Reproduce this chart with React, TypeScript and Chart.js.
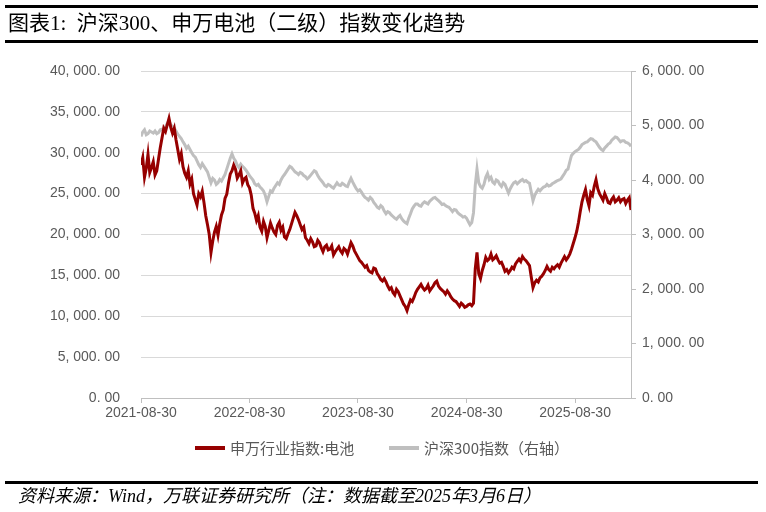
import React, { useEffect, useRef } from "react";
import { Chart, registerables } from "chart.js";

Chart.register(...registerables);

const TITLE = "图表1:  沪深300、申万电池（二级）指数变化趋势";
const SOURCE = "资料来源：Wind，万联证券研究所（注：数据截至2025年3月6日）";
const SERIES_NAMES = ["申万行业指数:电池", "沪深300指数（右轴）"];
const SERIES_COLORS = ["#960000", "#BFBFBF"];

const START_DATE = "2021-08-30";
const END_DATE = "2026-03-06";
const X_TICK_LABELS = ["2021-08-30", "2022-08-30", "2023-08-30", "2024-08-30", "2025-08-30"];

const LEFT_MAX = 40000;
const LEFT_STEP = 5000;
const RIGHT_MAX = 6000;
const RIGHT_STEP = 1000;

// 申万行业指数:电池 (left axis), evenly spaced samples from START_DATE to END_DATE
const BATTERY = [
  28500, 29400, 27000, 28100, 29800, 27600, 28200, 28900, 27300, 27800,
  29200, 30600, 31800, 33000, 32600, 33400, 34200, 33100, 32400, 33000,
  31600, 30400, 29200, 29900, 28300, 27500, 27000, 27800, 26200, 26800,
  25000, 24300, 23600, 25000, 24600, 25300, 23900, 22300, 21200, 20000,
  17800, 19200, 20300, 21000, 19900, 21300, 22400, 23000, 24400, 24900,
  26300, 27400, 27800, 28500, 28000, 26900, 27300, 27800, 26300, 26800,
  27000, 26100, 25700, 24800, 23200, 22600, 21700, 22300, 20900, 20400,
  21600, 21000, 19600, 20500, 21400, 20800, 20300, 20000, 21100, 21500,
  20500, 20900, 19700, 19500, 20100, 20600, 21300, 22000, 22700, 22300,
  21800, 21200, 20600, 20900, 19600, 19300, 18900, 19500, 19100, 18500,
  18600, 19300, 19000, 18400, 17900, 18500, 18700, 18100, 18200, 18600,
  17500, 17900, 18200, 18500, 18000, 17700, 18300, 18100, 17600, 18300,
  19000, 18600, 18000, 17600, 17200, 16800, 16600, 16300, 16000, 16200,
  15600, 15400, 15300, 15900, 15800, 15200, 14900, 14500, 14300, 14600,
  14200, 13700, 13300, 13500, 12900, 12600, 13300, 13000, 12500, 12000,
  11500, 11200, 10700, 11400, 12000, 11800, 12300, 12900, 13300, 13600,
  13900, 13500, 13200, 13400, 13800, 13100, 13400, 13700, 14100, 14300,
  13700, 13400, 13200, 13000, 12700, 13100, 12800, 12400, 12100, 11900,
  11800, 11500, 11200, 11600, 11400, 11100, 11200, 11400, 11500, 11300,
  11600, 15800, 17800, 15200, 14600, 15600, 16300, 17200, 16800, 17000,
  17600, 16900, 17100, 17400, 16900, 16500, 16600, 16100, 15500, 15700,
  15300, 15600, 16000, 15800, 16400, 16700, 17000, 16700, 17300, 17000,
  16800, 16500, 16200, 14800, 13500, 14100, 14400, 14200, 14700, 14900,
  15200, 15600, 16100, 15700, 15500, 16000, 15800, 16100, 16300, 16000,
  16500, 16900, 17300, 16900, 17200, 17600, 18200, 18900, 19600, 20400,
  21500, 22800, 24000, 24800, 25500, 24300, 23500, 25100, 24800, 25900,
  26700, 25600, 25000, 24600, 24200, 25000, 24500, 23900, 23800, 24300,
  24600, 24000, 24200, 24500, 24000, 24300, 24400, 23800, 24200, 24500,
  23000,
];

// 沪深300指数 (right axis)
const CSI300 = [
  4800, 4880, 4920, 4830, 4850, 4900, 4880, 4860, 4900, 4850,
  4870, 4920, 4930, 4900, 4980, 5040, 5080, 5010, 4990, 4950,
  4900, 4840, 4800, 4760, 4700, 4650, 4580, 4620, 4560, 4500,
  4450, 4420, 4350, 4280, 4230, 4300, 4250, 4200, 4150, 4050,
  3950, 4030, 4000, 3920, 3950, 4010, 3980, 4040, 4100, 4200,
  4300, 4400, 4480, 4400, 4350, 4270, 4230, 4290, 4250, 4220,
  4180, 4130, 4080, 4040, 4000, 3930, 3900, 3920, 3870, 3840,
  3800, 3720, 3600, 3700, 3800, 3780, 3850, 3900, 3950, 3920,
  4000, 4060, 4100, 4150, 4200, 4250, 4230, 4190, 4150, 4130,
  4100, 4140, 4120, 4080, 4060, 4020, 4050, 4090, 4130, 4170,
  4150, 4080, 4030, 3990, 3950, 3900, 3880, 3920, 3900, 3870,
  3850, 3900, 3950, 3910, 3900, 3940, 3920, 3890, 3880, 3960,
  4030, 3960, 3900, 3840, 3800, 3820, 3780, 3720, 3680, 3660,
  3630, 3680, 3650, 3590, 3550, 3500, 3480, 3530, 3500, 3430,
  3380, 3420, 3400, 3360, 3330, 3300, 3280, 3320, 3350, 3290,
  3250, 3220, 3200, 3300, 3380, 3470, 3520, 3560, 3560, 3530,
  3520, 3570, 3600, 3580, 3560, 3610, 3640, 3670, 3680, 3650,
  3620, 3590, 3550, 3560, 3530, 3510, 3500, 3460, 3420, 3460,
  3450, 3400, 3370, 3350, 3320, 3330, 3300, 3240, 3180, 3220,
  3400, 3900, 4200, 3950, 3880, 3850, 3920, 4050, 4120, 4010,
  4050, 3960, 3930, 4000, 3980, 3920, 3880, 3950, 3920, 3840,
  3760, 3840, 3900, 3950, 3970, 3930, 3960, 3990, 4010, 3970,
  3990, 3960, 3940, 3780, 3620, 3720, 3780, 3830, 3800, 3840,
  3870, 3880, 3920, 3890, 3900, 3930, 3950, 3970, 3990, 4000,
  4020, 4070, 4120, 4180, 4200, 4330, 4450, 4490, 4520, 4540,
  4560, 4600, 4650, 4670, 4690, 4700, 4730, 4760, 4750, 4720,
  4700, 4650, 4600, 4560, 4540, 4590, 4620, 4660, 4680, 4730,
  4760, 4790, 4780, 4740, 4700, 4720, 4720, 4690, 4680, 4660,
  4620,
];

const dayNum = (s: string) => {
  const [y, m, d] = s.split("-").map(Number);
  return Date.UTC(y, m - 1, d) / 86400000;
};

const fmt = (v: number) =>
  Number(v)
    .toLocaleString("en-US", { minimumFractionDigits: 2, maximumFractionDigits: 2 })
    .replace(/,/g, ", ")
    .replace(/\./g, ". ");

const TICK_FONT = { family: '"Liberation Sans", Arial, sans-serif', size: 14 };
const TEXT_GRAY = "#595959";

export default function App() {
  const canvasRef = useRef<HTMLCanvasElement | null>(null);

  useEffect(() => {
    document.body.style.margin = "0";
    const canvas = canvasRef.current;
    if (!canvas) return;
    const last = BATTERY.length - 1;
    const totalDays = dayNum(END_DATE) - dayNum(START_DATE);
    const tickPos = X_TICK_LABELS.map((l) => ((dayNum(l) - dayNum(START_DATE)) / totalDays) * last);
    const toPoints = (arr: number[]) => arr.map((v, i) => ({ x: (i * last) / (arr.length - 1), y: v }));

    const chart = new Chart(canvas, {
      type: "line",
      data: {
        datasets: [
          {
            label: SERIES_NAMES[0],
            data: toPoints(BATTERY),
            borderColor: SERIES_COLORS[0],
            backgroundColor: SERIES_COLORS[0],
            borderWidth: 3,
            pointRadius: 0,
            tension: 0,
            yAxisID: "y",
          },
          {
            label: SERIES_NAMES[1],
            data: toPoints(CSI300),
            borderColor: SERIES_COLORS[1],
            backgroundColor: SERIES_COLORS[1],
            borderWidth: 3,
            pointRadius: 0,
            tension: 0,
            yAxisID: "y1",
          },
        ],
      },
      options: {
        animation: false,
        responsive: false,
        devicePixelRatio: 1,
        layout: { padding: { top: 71, bottom: 82, left: 0, right: 0 } },
        plugins: { legend: { display: false }, tooltip: { enabled: false } },
        scales: {
          x: {
            type: "linear",
            min: 0,
            max: last,
            afterBuildTicks: (scale: any) => {
              scale.ticks = tickPos.map((v) => ({ value: v }));
            },
            afterFit: (scale: any) => {
              scale.height = 32;
            },
            grid: { drawOnChartArea: false, drawTicks: true, tickLength: 5, color: "#BFBFBF" },
            border: { display: true, color: "#BFBFBF", width: 1 },
            ticks: {
              autoSkip: false,
              maxRotation: 0,
              padding: 2,
              color: TEXT_GRAY,
              font: TICK_FONT,
              callback: (_v: any, i: number) => X_TICK_LABELS[i],
            },
          },
          y: {
            position: "left",
            min: 0,
            max: LEFT_MAX,
            afterFit: (scale: any) => {
              scale.width = 141;
            },
            grid: { drawTicks: false, color: "#D9D9D9", lineWidth: 1 },
            border: { display: false },
            ticks: {
              stepSize: LEFT_STEP,
              padding: 21,
              color: TEXT_GRAY,
              font: TICK_FONT,
              callback: (v: any) => fmt(v),
            },
          },
          y1: {
            position: "right",
            min: 0,
            max: RIGHT_MAX,
            afterFit: (scale: any) => {
              scale.width = 135;
            },
            grid: { drawOnChartArea: false, drawTicks: true, tickLength: 5, color: "#BFBFBF" },
            border: { display: true, color: "#BFBFBF", width: 1 },
            ticks: {
              stepSize: RIGHT_STEP,
              padding: 6,
              color: TEXT_GRAY,
              font: TICK_FONT,
              callback: (v: any) => fmt(v),
            },
          },
        },
      },
    } as any);
    return () => chart.destroy();
  }, []);

  const bar = (top: number, h: number) => (
    <div style={{ position: "absolute", left: 5, top, width: 753, height: h, background: "#000" }} />
  );

  return (
    <div style={{ position: "relative", width: 766, height: 512, background: "#fff", overflow: "hidden" }}>
      <canvas ref={canvasRef} width={766} height={512} style={{ position: "absolute", left: 0, top: 0, width: 766, height: 512 }} />
      {bar(5, 3)}
      <div
        style={{
          position: "absolute",
          left: 8,
          top: 10,
          fontSize: 21,
          lineHeight: "27px",
          whiteSpace: "pre",
          color: "#000",
          fontFamily: '"Liberation Serif", "Noto Sans CJK SC", serif',
        }}
      >
        {TITLE}
      </div>
      {bar(40, 3)}
      <div
        style={{
          position: "absolute",
          left: 0,
          top: 437,
          width: 766,
          height: 22,
          fontFamily: '"Noto Sans CJK SC", sans-serif',
          fontSize: 15,
          color: TEXT_GRAY,
        }}
      >
        {SERIES_NAMES.map((name, i) => (
          <div
            key={name}
            style={{ position: "absolute", left: i === 0 ? 195 : 389, top: 0, height: 22, display: "flex", alignItems: "center", whiteSpace: "nowrap" }}
          >
            <div style={{ width: 30, height: 4, background: SERIES_COLORS[i], marginRight: 5 }} />
            <span style={{ lineHeight: "22px" }}>{name}</span>
          </div>
        ))}
      </div>
      {bar(481, 3)}
      <div
        style={{
          position: "absolute",
          left: 18,
          top: 485,
          fontSize: 18,
          lineHeight: "23px",
          fontStyle: "italic",
          whiteSpace: "pre",
          color: "#000",
          fontFamily: '"Liberation Serif", "Noto Sans CJK SC", serif',
        }}
      >
        {SOURCE}
      </div>
    </div>
  );
}
